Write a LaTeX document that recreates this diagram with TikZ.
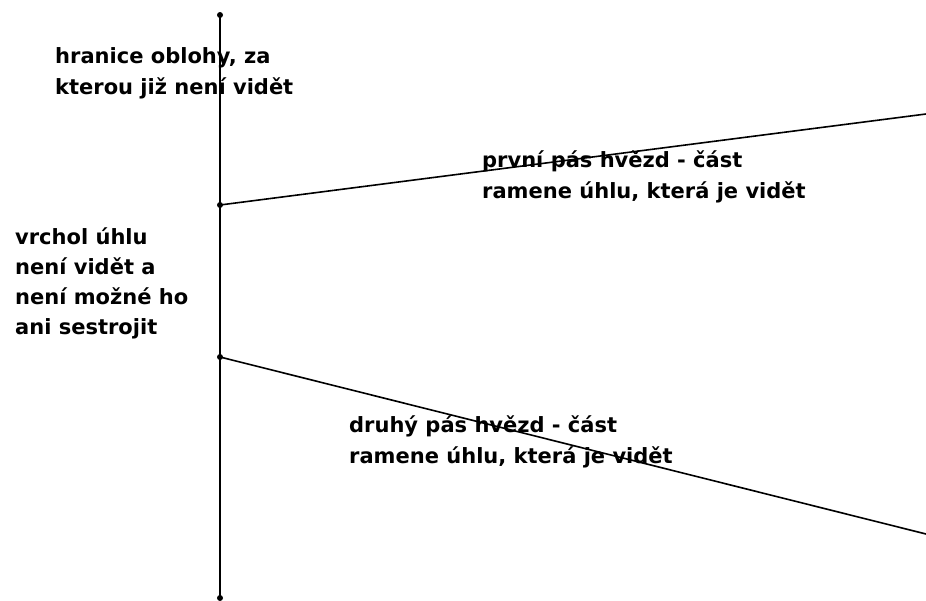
\documentclass[tikz,border=0pt]{standalone}
\usepackage{fontspec}
\setmainfont{DejaVu Sans}
\begin{document}
\begin{tikzpicture}[x=1pt,y=-1pt,
  lbl/.style={anchor=base west,inner sep=0pt,font=\fontsize{21}{30}\selectfont\bfseries},
  dot/.style={circle,fill=black,inner sep=0pt,minimum size=6pt},
  ln/.style={line width=1.6pt,black}]
\useasboundingbox (0,0) rectangle (926,600);
% points
\node[dot] (top) at (220,15) {};
\node[dot] (pa) at (220,205) {};
\node[dot] (pb) at (220,357) {};
\node[dot] (bot) at (220,598) {};
\coordinate (ea) at (926,114);
\coordinate (eb) at (926,534);
% lines
\draw[ln] (top.center) -- (bot.center);
\draw[ln] (pa.center) -- (ea);
\draw[ln] (pb.center) -- (eb);
% labels
\node[lbl] (h1) at (55,63.5) {hranice oblohy, za};
\node[lbl] (h2) at (55,94) {kterou již není vidět};
\node[lbl] (v1) at (15,244) {vrchol úhlu};
\node[lbl] (v2) at (15,274) {není vidět a};
\node[lbl] (v3) at (15,304) {není možné ho};
\node[lbl] (v4) at (15,334) {ani sestrojit};
\node[lbl] (p1) at (482,167) {první pás hvězd - část};
\node[lbl] (p2) at (482,198) {ramene úhlu, která je vidět};
\node[lbl] (d1) at (349,432) {druhý pás hvězd - část};
\node[lbl] (d2) at (349,463) {ramene úhlu, která je vidět};
\end{tikzpicture}
\end{document}
